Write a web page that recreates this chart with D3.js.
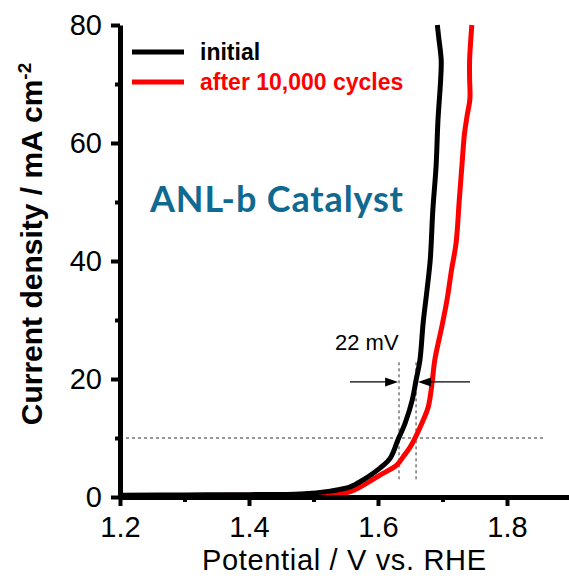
<!DOCTYPE html>
<html>
<head>
<meta charset="utf-8">
<script src="https://cdn.jsdelivr.net/npm/d3@7"></script>
<style>
  body { margin: 0; background: #fff; }
  svg { display: block; font-family: Arial, "Liberation Sans", sans-serif; }
</style>
</head>
<body>
<div id="chart"></div>
<script>
// potential (V vs RHE) and current density (mA cm-2)
const potInitial = [1.20, 1.30, 1.40, 1.48, 1.526, 1.557, 1.577, 1.603, 1.619, 1.631, 1.642, 1.653, 1.659, 1.665, 1.670, 1.676, 1.681, 1.685, 1.690, 1.693, 1.697, 1.698, 1.694, 1.692];
const jInitial   = [0.3, 0.35, 0.4, 0.5, 1.0, 1.7, 2.9, 4.9, 6.6, 9.7, 12.5, 16.4, 19.8, 23.2, 29.5, 35.1, 40.2, 48.6, 56.0, 63.9, 70.5, 74.0, 78.0, 80.0];

const potAged = [1.20, 1.30, 1.40, 1.48, 1.526, 1.557, 1.588, 1.603, 1.629, 1.639, 1.650, 1.657, 1.668, 1.678, 1.684, 1.688, 1.699, 1.707, 1.714, 1.721, 1.726, 1.730, 1.734, 1.738, 1.7425, 1.7420, 1.7420, 1.7435, 1.7455];
const jAged   = [0.2, 0.25, 0.3, 0.3, 0.4, 0.9, 2.7, 3.7, 5.4, 6.8, 8.5, 9.9, 12.5, 15.3, 19.5, 23.2, 28.9, 33.4, 38.5, 43.0, 50.3, 56.0, 61.5, 64.5, 67.5, 71.0, 74.0, 77.0, 80.0];

const seriesNames = ["initial", "after 10,000 cycles"];
const seriesColors = ["#000000", "#ff0000"];

const xMajorTicks = [1.2, 1.4, 1.6, 1.8];
const xMinorTicks = [1.3, 1.5, 1.7];
const yMajorTicks = [0, 20, 40, 60, 80];
const yMinorTicks = [10, 30, 50, 70];

// 22 mV annotation: reference current and the two potentials
const jRef = 10;
const eRef = [1.6326, 1.659];
const markerSpan = [3, 23.2];
const arrowJ = 19.5;
const arrowFrom = [1.5566, 1.7426];
const arrowTo = [1.6312, 1.6620];

const width = 569, height = 578;

const svg = d3.select("#chart").append("svg")
    .attr("width", width)
    .attr("height", height);

const x = d3.scaleLinear().domain([1.2, 1.9]).range([120, 571.5]);
const y = d3.scaleLinear().domain([0, 80]).range([497, 25]);

// dashed guides
const guides = svg.append("g")
    .attr("stroke", "#333")
    .attr("stroke-width", 1)
    .attr("stroke-dasharray", "3,3");
guides.append("line")
    .attr("x1", x(1.2)).attr("x2", x(1.856))
    .attr("y1", y(jRef)).attr("y2", y(jRef));
guides.selectAll(".v")
  .data(eRef)
  .join("line")
    .attr("class", "v")
    .attr("x1", d => x(d)).attr("x2", d => x(d))
    .attr("y1", y(markerSpan[0])).attr("y2", y(markerSpan[1]));

// curves
const line = d3.line()
    .x(d => x(d[0]))
    .y(d => y(d[1]))
    .curve(d3.curveCatmullRom);

const curves = [
  d3.zip(potInitial, jInitial),
  d3.zip(potAged, jAged)
];

svg.append("g").selectAll("path")
  .data([1, 0])
  .join("path")
    .attr("d", i => line(curves[i]))
    .attr("fill", "none")
    .attr("stroke", i => seriesColors[i])
    .attr("stroke-width", 5)
    .attr("stroke-linejoin", "round");

// arrows
const arrows = svg.append("g");
arrowFrom.forEach((a, i) => {
  const x0 = x(a), x1 = x(arrowTo[i]), yy = y(arrowJ);
  const dir = x1 > x0 ? 1 : -1;
  arrows.append("line")
      .attr("x1", x0).attr("x2", x1 - dir * 8)
      .attr("y1", yy).attr("y2", yy)
      .attr("stroke", "#000").attr("stroke-width", 1.3);
  arrows.append("path")
      .attr("d", `M${x1},${yy}L${x1 - dir * 13},${yy - 4.5}L${x1 - dir * 13},${yy + 4.5}Z`)
      .attr("fill", "#000");
});

svg.append("text")
    .attr("x", 335)
    .attr("y", 350)
    .attr("font-size", 22)
    .text("22 mV");

// axes
const xAxis = svg.append("g")
    .attr("transform", `translate(0,${y(0)})`)
    .call(d3.axisBottom(x).tickValues(xMajorTicks).tickSize(9).tickSizeOuter(0).tickPadding(10).tickFormat(d3.format(".1f")));
xAxis.select(".domain").attr("stroke-width", 5);
xAxis.selectAll(".tick line").attr("stroke-width", 4);
xAxis.selectAll(".tick text").attr("font-size", 29).attr("fill", "#000");

const xMinor = svg.append("g")
    .attr("transform", `translate(0,${y(0)})`)
    .call(d3.axisBottom(x).tickValues(xMinorTicks).tickSize(5).tickSizeOuter(0).tickFormat(""));
xMinor.select(".domain").remove();
xMinor.selectAll(".tick line").attr("stroke-width", 4);

const yAxis = svg.append("g")
    .attr("transform", `translate(${x(1.2)},0)`)
    .call(d3.axisLeft(y).tickValues(yMajorTicks).tickSize(9).tickSizeOuter(0).tickPadding(9));
yAxis.select(".domain").attr("stroke-width", 5);
yAxis.selectAll(".tick line").attr("stroke-width", 4);
yAxis.selectAll(".tick text").attr("font-size", 29).attr("fill", "#000");

const yMinor = svg.append("g")
    .attr("transform", `translate(${x(1.2)},0)`)
    .call(d3.axisLeft(y).tickValues(yMinorTicks).tickSize(5).tickSizeOuter(0).tickFormat(""));
yMinor.select(".domain").remove();
yMinor.selectAll(".tick line").attr("stroke-width", 4);

// axis titles
svg.append("text")
    .attr("x", 344)
    .attr("y", 570)
    .attr("text-anchor", "middle")
    .attr("font-size", 29)
    .attr("textLength", 284)
    .text("Potential / V vs. RHE");

const yTitle = svg.append("text")
    .attr("transform", "translate(42,244) rotate(-90)")
    .attr("text-anchor", "middle")
    .attr("font-size", 30)
    .attr("font-weight", "bold");
yTitle.append("tspan").text("Current density / mA cm");
yTitle.append("tspan").attr("dy", -11).attr("font-size", 19).text("-2");

// legend
const legend = svg.append("g").selectAll("g")
  .data(seriesNames)
  .join("g")
    .attr("transform", (d, i) => `translate(132,${52 + i * 30})`);
legend.append("line")
    .attr("x1", 0).attr("x2", 52)
    .attr("stroke", (d, i) => seriesColors[i])
    .attr("stroke-width", 5);
legend.append("text")
    .attr("x", 68)
    .attr("y", 8)
    .attr("font-size", 23)
    .attr("font-weight", "bold")
    .attr("fill", (d, i) => seriesColors[i])
    .text(d => d);

// catalyst label
svg.append("text")
    .attr("x", 150)
    .attr("y", 212)
    .attr("font-family", "Lato, 'Open Sans', sans-serif")
    .attr("font-weight", "bold")
    .attr("font-size", 36)
    .attr("fill", "#0f6991")
    .attr("textLength", 253)
    .text("ANL-b Catalyst");
</script>
</body>
</html>
